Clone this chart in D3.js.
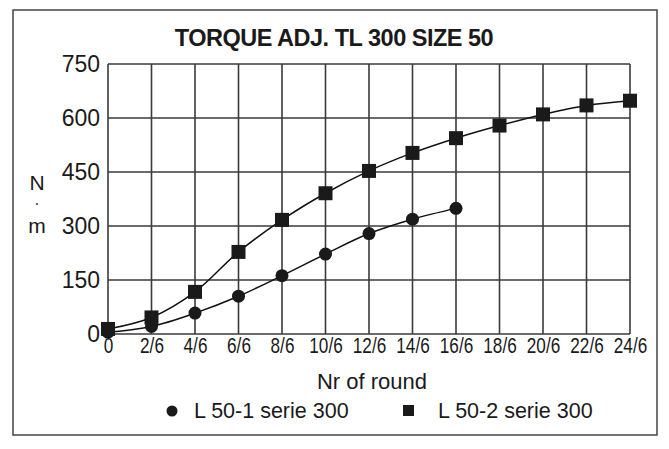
<!DOCTYPE html>
<html><head><meta charset="utf-8">
<script src="https://cdn.jsdelivr.net/npm/d3@7"></script>
<style>
body{margin:0;background:#fff;}
svg{display:block;}
text{font-family:"Liberation Sans",Arial,Helvetica,sans-serif;fill:#1a1a1a;}
</style></head><body>
<svg id="c" width="669" height="449"></svg>
<script>
const title = "TORQUE ADJ. TL 300 SIZE 50";
const xTickLabels = ["0","2/6","4/6","6/6","8/6","10/6","12/6","14/6","16/6","18/6","20/6","22/6","24/6"];
const yTicks = [0,150,300,450,600,750];
const seriesNames = ["L 50-1 serie 300","L 50-2 serie 300"];
const series1 = [5,21,58,105,162,222,279,319,349];
const series2 = [14,46,117,228,317,391,453,503,544,579,610,635,648];

const svg = d3.select("#c");
const m = {l:108, r:630, t:64, b:334};
const x = d3.scaleLinear().domain([0, xTickLabels.length-1]).range([m.l, m.r]);
const y = d3.scaleLinear().domain([0,750]).range([m.b, m.t]);

// frame
svg.append("rect").attr("x",13).attr("y",10).attr("width",644).attr("height",425)
  .attr("fill","none").attr("stroke","#444").attr("stroke-width",1.5);

svg.append("text").attr("x",334).attr("y",46).attr("text-anchor","middle")
  .style("font-weight","bold").style("font-size","23.5px").style("letter-spacing","-0.5px").text(title);

// grid
const gg = svg.append("g").attr("stroke","#3a3a3a").attr("stroke-width",1.6);
xTickLabels.forEach((d,i)=>{
  gg.append("line").attr("x1",x(i)).attr("x2",x(i)).attr("y1",m.t).attr("y2",m.b);
});
yTicks.forEach(v=>{
  gg.append("line").attr("x1",m.l).attr("x2",m.r).attr("y1",y(v)).attr("y2",y(v));
});

// y axis
const ya = svg.append("g").attr("transform",`translate(${m.l},0)`)
  .call(d3.axisLeft(y).tickValues(yTicks).tickSize(0).tickPadding(8));
ya.select(".domain").remove();
ya.selectAll("text").style("font-size","23px").attr("fill","#1a1a1a");

// x axis
const xa = svg.append("g").attr("transform",`translate(0,${m.b})`)
  .call(d3.axisBottom(x).tickValues(d3.range(xTickLabels.length)).tickFormat(i=>xTickLabels[i]).tickSize(0).tickPadding(3));
xa.select(".domain").remove();
xa.selectAll("text").style("font-size","22px").attr("transform","scale(0.78,1)").attr("fill","#1a1a1a");

// axis titles
svg.append("text").attr("x",372).attr("y",389).attr("text-anchor","middle").style("font-size","22px").text("Nr of round");
svg.append("text").attr("x",37).attr("y",190).attr("text-anchor","middle").style("font-size","21px").text("N");
svg.append("text").attr("x",37).attr("y",209).attr("text-anchor","middle").style("font-size","16px").text("·");
svg.append("text").attr("x",37).attr("y",233).attr("text-anchor","middle").style("font-size","21px").text("m");

// lines
const line = d3.line().x((d,i)=>x(i)).y(d=>y(d)).curve(d3.curveCatmullRom.alpha(0.5));
[series1, series2].forEach(s=>{
  svg.append("path").attr("d",line(s)).attr("fill","none").attr("stroke","#111").attr("stroke-width",1.5);
});
svg.append("g").selectAll("circle").data(series1).join("circle")
  .attr("cx",(d,i)=>x(i)).attr("cy",d=>y(d)).attr("r",6.5).attr("fill","#1a1a1a");
svg.append("g").selectAll("rect").data(series2).join("rect")
  .attr("x",(d,i)=>x(i)-7).attr("y",d=>y(d)-7).attr("width",14).attr("height",14).attr("fill","#1a1a1a");

// legend
svg.append("circle").attr("cx",172).attr("cy",411).attr("r",5.5).attr("fill","#1a1a1a");
svg.append("text").attr("x",194).attr("y",418).style("font-size","21.5px").text(seriesNames[0]);
svg.append("rect").attr("x",403).attr("y",405).attr("width",11).attr("height",11).attr("fill","#1a1a1a");
svg.append("text").attr("x",438).attr("y",418).style("font-size","21.5px").text(seriesNames[1]);
</script></body></html>
